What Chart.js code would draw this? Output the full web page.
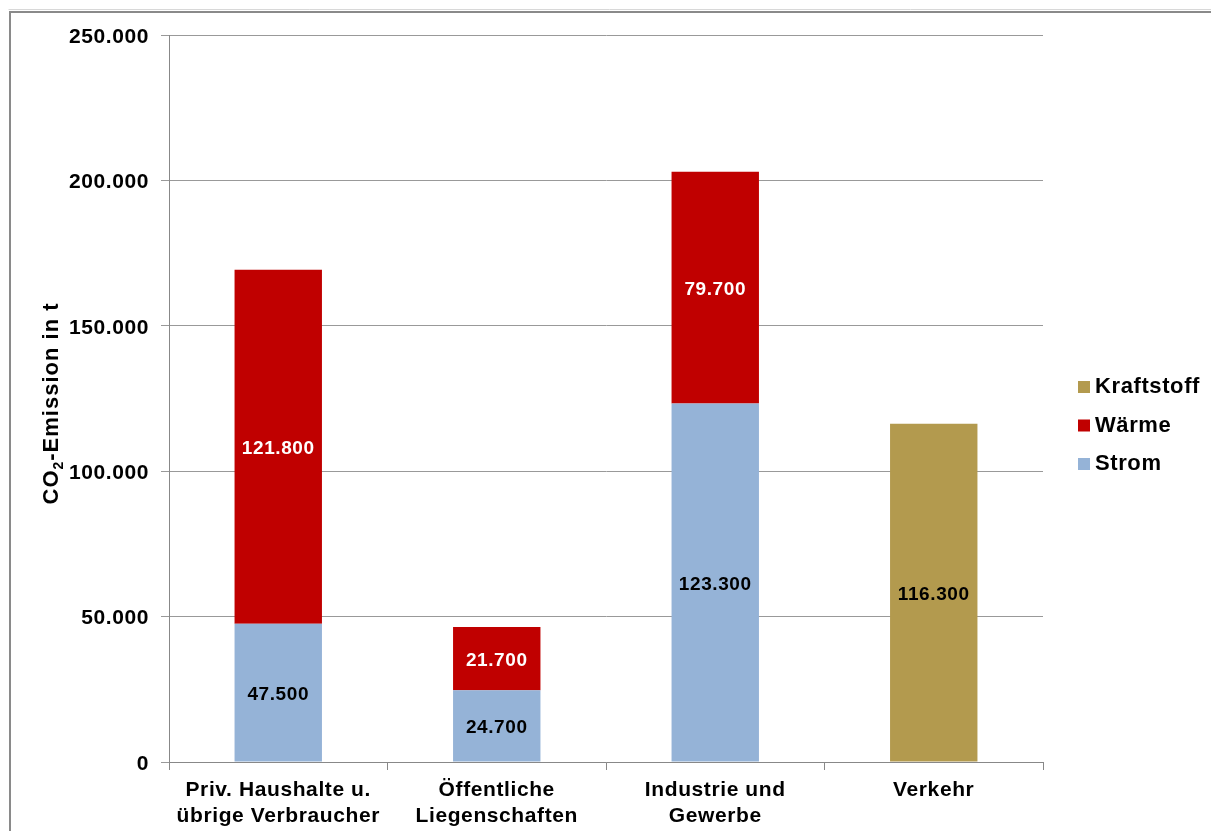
<!DOCTYPE html>
<html><head><meta charset="utf-8">
<script src="https://cdn.jsdelivr.net/npm/chart.js@4/dist/chart.umd.min.js"></script>
<style>html,body{margin:0;padding:0;background:#fff;}#wrap{width:1211px;height:831px;position:relative;}</style>
</head><body><div id="wrap"><canvas id="c" width="1211" height="831"></canvas></div>
<script>
const categories = [["Priv. Haushalte u.","übrige Verbraucher"],["Öffentliche","Liegenschaften"],["Industrie und","Gewerbe"],["Verkehr"]];
const strom = [47500, 24700, 123300, 0];
const waerme = [121800, 21700, 79700, 0];
const kraftstoff = [0, 0, 0, 116300];
const yTicks = [0, 50000, 100000, 150000, 200000, 250000];
const yTitle = ["CO", "2", "-Emission in t"];

const FONT = "'Liberation Sans', Arial, sans-serif";
const fmt = v => v.toString().replace(/\B(?=(\d{3})+(?!\d))/g, ".");

const spacingPlugin = {
  id: 'spacing',
  beforeUpdate(chart) { chart.ctx.letterSpacing = '0.6px'; },
  beforeLayout(chart) { chart.ctx.letterSpacing = '0.6px'; },
  beforeDraw(chart) { chart.ctx.letterSpacing = '0.6px'; }
};

const framePlugin = {
  id: 'frame',
  beforeDraw(chart) {
    const ctx = chart.ctx;
    ctx.save();
    ctx.strokeStyle = '#d8d8d8'; ctx.lineWidth = 1;
    ctx.beginPath(); ctx.moveTo(8.5, 9.5); ctx.lineTo(1211, 9.5); ctx.stroke();
    ctx.strokeStyle = '#8a8a8a'; ctx.lineWidth = 2;
    ctx.beginPath(); ctx.moveTo(1211, 12); ctx.lineTo(10, 12); ctx.lineTo(10, 831); ctx.stroke();
    ctx.restore();
  }
};

const titlePlugin = {
  id: 'ytitle',
  afterDraw(chart) {
    const ctx = chart.ctx;
    const area = chart.chartArea;
    ctx.save();
    ctx.letterSpacing = '1px';
    ctx.fillStyle = '#000';
    ctx.textBaseline = 'alphabetic'; ctx.textAlign = 'left';
    const big = "bold 22px " + FONT, small = "bold 14px " + FONT;
    ctx.font = big; const w1 = ctx.measureText(yTitle[0]).width, w3 = ctx.measureText(yTitle[2]).width;
    ctx.font = small; const w2 = ctx.measureText(yTitle[1]).width;
    const total = w1 + w2 + w3;
    const cy = (area.top + area.bottom) / 2 + 5;
    ctx.translate(58, cy + total / 2);
    ctx.rotate(-Math.PI / 2);
    ctx.font = big; ctx.fillText(yTitle[0], 0, 0);
    ctx.font = small; ctx.fillText(yTitle[1], w1, 5);
    ctx.font = big; ctx.fillText(yTitle[2], w1 + w2, 0);
    ctx.restore();
  }
};

const labelPlugin = {
  id: 'vals',
  afterDatasetsDraw(chart) {
    const ctx = chart.ctx;
    ctx.save();
    ctx.font = "bold 19px " + FONT;
    ctx.textAlign = 'center'; ctx.textBaseline = 'middle';
    chart.data.datasets.forEach((ds, di) => {
      const meta = chart.getDatasetMeta(di);
      meta.data.forEach((el, i) => {
        const v = ds.data[i];
        if (!v) return;
        ctx.fillStyle = ds.labelColor;
        ctx.fillText(fmt(v), el.x, (el.y + el.base) / 2 + 2);
      });
    });
    ctx.restore();
  }
};

const legendPlugin = {
  id: 'customLegend',
  afterDraw(chart) {
    const ctx = chart.ctx;
    ctx.save();
    ctx.font = "bold 22px " + FONT;
    ctx.textBaseline = 'middle'; ctx.textAlign = 'left';
    const ds = chart.data.datasets.slice().reverse();
    ds.forEach((d, i) => {
      const y = 386 + i * 38.5;
      ctx.fillStyle = d.backgroundColor;
      ctx.fillRect(1078, y - 5, 12, 12);
      ctx.fillStyle = '#000';
      ctx.fillText(d.label, 1095, y + 1);
    });
    ctx.restore();
  }
};

new Chart(document.getElementById('c'), {
  type: 'bar',
  data: {
    labels: categories,
    datasets: [
      { label: 'Strom', data: strom, backgroundColor: '#95B3D7', labelColor: '#000' },
      { label: 'Wärme', data: waerme, backgroundColor: '#C00000', labelColor: '#fff' },
      { label: 'Kraftstoff', data: kraftstoff, backgroundColor: '#B39A4E', labelColor: '#000' }
    ]
  },
  options: {
    responsive: false,
    animation: false,
    devicePixelRatio: 1,
    layout: { padding: { left: 0, right: 168, top: 35, bottom: 0 } },
    datasets: { bar: { categoryPercentage: 1, barPercentage: 0.4 } },
    plugins: { legend: { display: false }, tooltip: { enabled: false } },
    scales: {
      x: {
        stacked: true,
        grid: { offset: true, drawOnChartArea: false, drawTicks: true, tickLength: 8, color: '#888' },
        border: { color: '#888', width: 1 },
        ticks: { color: '#000', font: { family: FONT, size: 21, weight: 'bold' }, padding: 8, maxRotation: 0, autoSkip: false },
        afterFit(s) { s.height = 69; }
      },
      y: {
        stacked: true,
        min: 0, max: 250000,
        afterBuildTicks(s) { s.ticks = yTicks.map(v => ({ value: v })); },
        grid: { color: '#999', tickLength: 8, drawTicks: true },
        border: { color: '#888', width: 1 },
        ticks: { color: '#000', font: { family: FONT, size: 21, weight: 'bold' }, padding: 12, labelOffset: 2, callback: v => fmt(v) },
        title: { display: false },
        afterFit(s) { s.width = 169; }
      }
    }
  },
  plugins: [spacingPlugin, framePlugin, labelPlugin, legendPlugin, titlePlugin]
});
</script></body></html>
